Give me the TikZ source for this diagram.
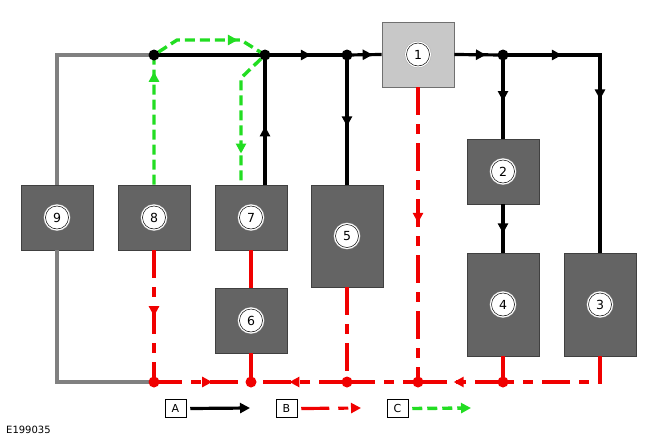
\documentclass[tikz,border=0pt]{standalone}
\usepackage{fontspec}
\setmainfont{DejaVu Sans}
\usetikzlibrary{arrows.meta,decorations.markings}

\definecolor{boxfill}{RGB}{100,100,100}
\definecolor{boxline}{RGB}{64,64,64}
\definecolor{pumpfill}{RGB}{200,200,200}
\definecolor{pumpline}{RGB}{112,112,112}
\definecolor{flowred}{RGB}{240,0,0}
\definecolor{flowgreen}{RGB}{34,221,34}
\definecolor{returngray}{RGB}{128,128,128}

\begin{document}
\begin{tikzpicture}[x=1pt, y=-1pt,
    box/.style={draw=boxline, fill=boxfill, line width=0.6pt, inner sep=0,
        minimum width=72pt, minimum height=65pt},
    tall/.style={box, minimum height=102pt},
    num/.style={circle, fill=white, draw=black, line width=0.5pt, inner sep=0,
        minimum size=23pt, font=\fontsize{12.5}{12.5}\selectfont,
        preaction={draw=gray!70, line width=3.8pt},
        preaction={draw=white, line width=3pt}},
    lgd/.style={draw=black, fill=white, line width=0.5pt, inner sep=0,
        minimum width=21pt, minimum height=18pt, font=\fontsize{11}{11}\selectfont},
    blk/.style={draw=black, line width=3.2pt},
    rd/.style={draw=flowred, line width=3.2pt, dash pattern=on 28pt off 9pt on 10pt off 9pt},
    rdsolid/.style={draw=flowred, line width=3.2pt},
    grn/.style={draw=flowgreen, line width=3.4pt, dash pattern=on 10pt off 5pt},
    gry/.style={draw=returngray, line width=3.2pt},
    fwd/.style={postaction={decorate, decoration={markings,
        mark=at position #1 with {\arrow{Triangle[length=10pt,width=10pt]}}}}}]

    \useasboundingbox (0,0) rectangle (672,442);

    % boxes
    \node[box, fill=pumpfill, draw=pumpline] (b1) at (418,54.5) {};
    \node[box] (b2) at (503,171.5) {};
    \node[box, minimum height=103pt] (b3) at (600,304.5) {};
    \node[box, minimum height=103pt] (b4) at (503,304.5) {};
    \node[tall] (b5) at (347,236) {};
    \node[box] (b6) at (251,320.5) {};
    \node[box] (b7) at (251,217.5) {};
    \node[box] (b8) at (154,217.5) {};
    \node[box] (b9) at (57,217.5) {};

    % junctions and corners
    \coordinate (j1) at (154,55);
    \coordinate (j2) at (265,55);
    \coordinate (j3) at (347,55);
    \coordinate (j4) at (503,55);
    \coordinate (r1) at (154,382);
    \coordinate (r2) at (251,382);
    \coordinate (r3) at (347,382);
    \coordinate (r4) at (418,382);
    \coordinate (r5) at (503,382);
    \coordinate (g1) at (177,40);
    \coordinate (g2) at (241,40);
    \coordinate (g3) at (241,78);

    % return (gray)
    \draw[gry] (b9.north) |- (j1);
    \draw[gry] (b9.south) |- (r1);

    % flow A
    \draw[blk] (j1) -- (j2);
    \draw[blk, fwd=0.56] (j2) -- (j3);
    \draw[blk, fwd=0.74] (j3) -- (b1.west);
    \draw[blk, fwd=0.45] (b7.north -| j2) -- (j2);
    \draw[blk, fwd=0.55] (j3) -- (b5.north);
    \draw[blk, fwd=0.65] (b1.east) -- (j4);
    \draw[blk, fwd=0.2, fwd=0.48] (j4) -| (b3.north);
    \draw[blk, fwd=0.55] (j4) -- (b2.north);
    \draw[blk, fwd=0.6] (b2.south) -- (b4.north);

    % flow B
    \draw[rd, fwd=0.46] (b1.south) -- (r4);
    \draw[rd, fwd=0.5] (b8.south) -- (r1);
    \draw[rdsolid] (b7.south) -- (b6.north);
    \draw[rdsolid] (b6.south) -- (r2);
    \draw[rd] (b5.south) -- (r3);
    \draw[rdsolid] (b4.south) -- (r5);
    \draw[rd] (b3.south) |- (r5);
    \draw[rd, fwd=0.6] (r1) -- (r2);
    \draw[rd, fwd=0.6] (r3) -- (r2);
    \draw[rd] (r3) -- (r4);
    \draw[rd, fwd=0.58] (r5) -- (r4);

    % flow C
    \draw[grn, line join=round, fwd=0.29, fwd=0.56, fwd=0.92]
        (b8.north) -- (j1) -- (g1) -- (g2) -- (j2) -- (g3) -- (b7.north -| g3);

    \foreach \j in {j1,j2,j3,j4}
        \fill (\j) circle (5.5pt);
    \foreach \j in {r1,r2,r3,r4,r5}
        \fill[flowred] (\j) circle (5.5pt);

    % numbers
    \foreach \i in {1,...,9}
        \node[num] (n\i) at (b\i) {\i};

    % legend
    \node[lgd] (la) at (175.5,408.5) {A};
    \node[lgd] (lb) at (286.5,408.5) {B};
    \node[lgd] (lc) at (397.5,408.5) {C};
    \coordinate (ea) at (250,408);
    \coordinate (eb) at (361,408);
    \coordinate (ec) at (471,408);
    \draw[blk, -{Triangle[length=10pt,width=10pt]}] ([xshift=4pt]la.east) -- (ea);
    \draw[rdsolid, dash pattern=on 28pt off 9pt on 10pt off 9pt,
        -{Triangle[length=10pt,width=10pt]}] ([xshift=4pt]lb.east) -- (eb);
    \draw[grn, -{Triangle[length=10pt,width=10pt]}] ([xshift=4pt]lc.east) -- (ec);

    \node[anchor=west, inner sep=0, font=\fontsize{10}{10}\selectfont] (code) at (6,430) {E199035};
\end{tikzpicture}
\end{document}
